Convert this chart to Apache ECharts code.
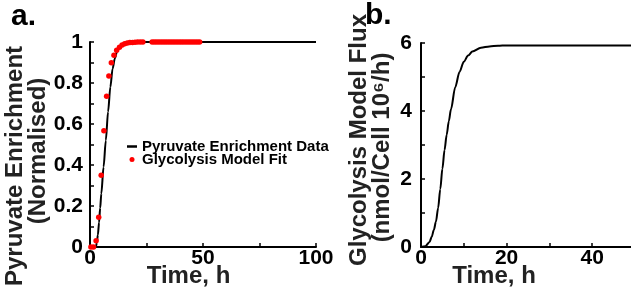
<!DOCTYPE html>
<html>
<head>
<meta charset="utf-8">
<script src="https://cdn.jsdelivr.net/npm/echarts@6/dist/echarts.min.js"></script>
<style>
  html, body { margin: 0; padding: 0; background: #fff; }
  #chart { width: 631px; height: 291px; }
</style>
</head>
<body>
<div id="chart"></div>
<script>
// panel a: measured pyruvate enrichment (black line) and model fit (red dots)
const dataTime = [0, 1, 2, 2.6, 3, 3.5, 4, 4.5, 5, 6, 7, 8, 9, 10, 11, 12, 13, 14, 16, 18, 20, 25, 100];
const dataEnrich = [0, 0, 0, 0, 0.02, 0.06, 0.12, 0.19, 0.26, 0.39, 0.52, 0.66, 0.78, 0.87, 0.92, 0.955, 0.975, 0.986, 0.995, 0.998, 1, 1, 1];

const fitTime = [0.4, 1.55, 2.7, 3.85, 4.95, 6.15, 7.35, 8.35, 9.45, 10.6, 11.8, 13.05, 14.2, 15.35, 16.5, 17.65, 18.8, 19.95, 21.1, 22.25, 23.4,
  27.5, 28.5, 29.5, 30.5, 31.5, 32.5, 33.5, 34.5, 35.5, 36.5, 37.5, 38.5, 39.5, 40.5, 41.5, 42.5, 43.5, 44.5, 45.5, 46.5, 47.5, 48.5];
const fitEnrich = [0, 0, 0.03, 0.145, 0.35, 0.567, 0.735, 0.834, 0.899, 0.935, 0.96, 0.975, 0.985, 0.991, 0.995, 0.997, 0.998, 0.999, 1, 1, 1,
  1, 1, 1, 1, 1, 1, 1, 1, 1, 1, 1, 1, 1, 1, 1, 1, 1, 1, 1, 1, 1, 1];

// panel b: glycolysis model flux
const fluxTime = [0, 1, 2, 2.5, 3, 3.5, 4, 4.5, 5, 5.5, 6, 6.5, 7, 8, 9, 10, 11, 12, 14, 16, 18, 20, 30, 50];
const fluxValue = [0, 0.02, 0.15, 0.3, 0.5, 0.75, 1.15, 1.7, 2.3, 2.85, 3.3, 3.7, 4.05, 4.7, 5.15, 5.45, 5.63, 5.75, 5.86, 5.9, 5.92, 5.93, 5.93, 5.93];

const FONT = 'Liberation Sans';
const tickFont = { color: '#000', fontFamily: FONT, fontWeight: 'bold', fontSize: 21 };
const nameFont = { color: '#222', fontFamily: FONT, fontWeight: 'bold', fontSize: 24, lineHeight: 23 };

const chart = echarts.init(document.getElementById('chart'));

function axisStyle(extra) {
  return Object.assign({
    axisLine: { lineStyle: { color: '#000', width: 2 } },
    axisTick: { inside: true, length: 4, lineStyle: { color: '#000', width: 1.5 } },
    minorTick: { show: true, splitNumber: 2, length: 4, lineStyle: { color: '#000', width: 1.5 } },
    splitLine: { show: false }
  }, extra);
}

const option = {
  animation: false,
  title: [
    { text: 'a.', left: 6, top: -3, textStyle: { fontFamily: FONT, fontWeight: 'bold', fontSize: 30, color: '#000' } },
    { text: 'b.', left: 360, top: -4, textStyle: { fontFamily: FONT, fontWeight: 'bold', fontSize: 30, color: '#000' } }
  ],
  legend: {
    orient: 'vertical',
    left: 122,
    top: 134,
    itemWidth: 10,
    itemHeight: 5,
    itemGap: -2,
    textStyle: { color: '#000', fontFamily: FONT, fontWeight: 'bold', fontSize: 15 },
    data: [
      { name: 'Pyruvate Enrichment Data', icon: 'path://M0,0H20V5H0Z' },
      { name: 'Glycolysis Model Fit', icon: 'circle' }
    ]
  },
  grid: [
    { left: 90, top: 42, width: 226, height: 205, outerBoundsMode: 'none', containLabel: false },
    { left: 421, top: 43, width: 214, height: 204, outerBoundsMode: 'none', containLabel: false }
  ],
  xAxis: [
    axisStyle({
      gridIndex: 0, type: 'value', min: 0, max: 100, interval: 50,
      name: 'Time, h', nameLocation: 'middle', nameGap: 18, nameMoveOverlap: false,
      nameTextStyle: Object.assign({ padding: [0, 29, 0, 0] }, nameFont),
      axisLabel: Object.assign({ margin: 1 }, tickFont)
    }),
    axisStyle({
      gridIndex: 1, type: 'value', min: 0, max: 50, interval: 20,
      name: 'Time, h', nameLocation: 'middle', nameGap: 18, nameMoveOverlap: false,
      nameTextStyle: Object.assign({ padding: [0, 68, 0, 0] }, nameFont),
      axisLabel: Object.assign({ margin: 1, showMaxLabel: false }, tickFont)
    })
  ],
  yAxis: [
    axisStyle({
      gridIndex: 0, type: 'value', min: 0, max: 1, interval: 0.2,
      name: '{a|Pyruvate Enrichment}\n{b|(Normalised)}', nameLocation: 'middle', nameRotate: 90, nameGap: 39,
      nameTextStyle: Object.assign({
        padding: [0, 13, 0, 0],
        rich: {
          a: Object.assign({ padding: [0, 30, 0, 0] }, nameFont),
          b: Object.assign({}, nameFont)
        }
      }, nameFont),
      axisLabel: Object.assign({ margin: 7 }, tickFont)
    }),
    axisStyle({
      gridIndex: 1, type: 'value', min: 0, max: 6, interval: 2,
      name: '{a|Glycolysis Model Flux}\n{b|(nmol/Cell 10⁶/h)}', nameLocation: 'middle', nameRotate: 90, nameGap: 27,
      nameTextStyle: Object.assign({
        padding: [0, 0, 0, 10],
        rich: {
          a: Object.assign({}, nameFont),
          b: Object.assign({ padding: [0, 15, 0, 0] }, nameFont)
        }
      }, nameFont),
      axisLabel: Object.assign({ margin: 9 }, tickFont)
    })
  ],
  series: [
    {
      name: 'Pyruvate Enrichment Data',
      type: 'line',
      xAxisIndex: 0, yAxisIndex: 0,
      data: dataTime.map((t, i) => [t, dataEnrich[i]]),
      smooth: 0.3,
      smoothMonotone: 'x',
      showSymbol: false,
      lineStyle: { color: '#000', width: 2 },
      itemStyle: { color: '#000' },
      z: 2
    },
    {
      name: 'Glycolysis Model Fit',
      type: 'scatter',
      xAxisIndex: 0, yAxisIndex: 0,
      data: fitTime.map((t, i) => [t, fitEnrich[i]]),
      symbolSize: 5.5,
      itemStyle: { color: '#ff0000', opacity: 1 },
      z: 3
    },
    {
      name: 'Glycolysis Model Flux',
      type: 'line',
      xAxisIndex: 1, yAxisIndex: 1,
      data: fluxTime.map((t, i) => [t, fluxValue[i]]),
      smooth: 0.3,
      smoothMonotone: 'x',
      showSymbol: false,
      lineStyle: { color: '#000', width: 2 },
      z: 2
    }
  ]
};

chart.setOption(option);
</script>
</body>
</html>
